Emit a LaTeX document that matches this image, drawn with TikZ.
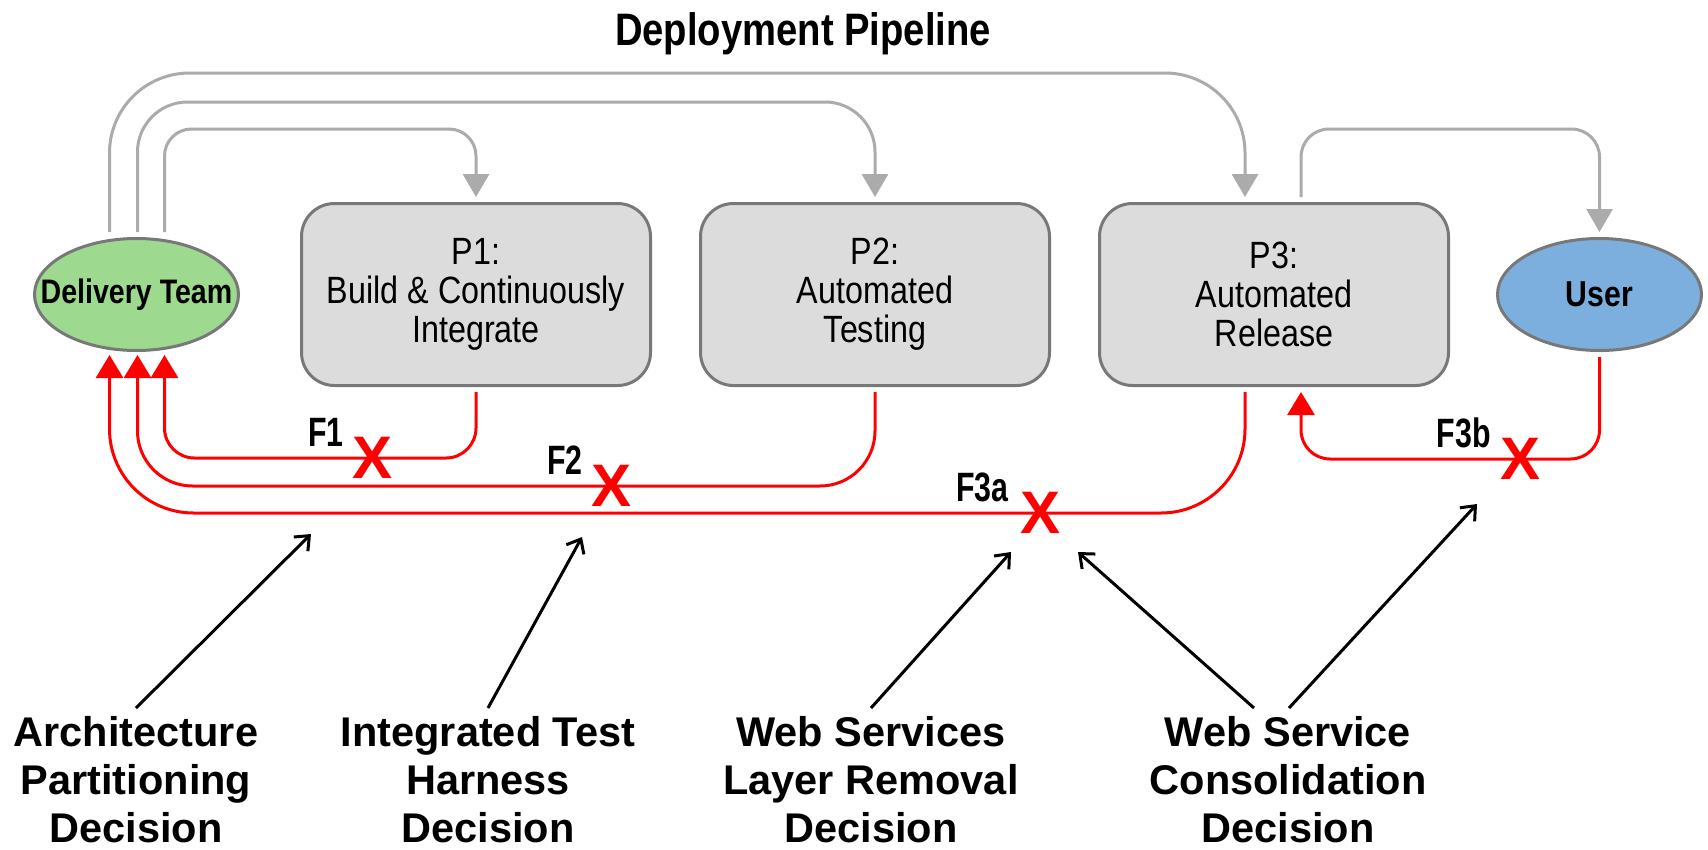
\documentclass[tikz,border=0pt]{standalone}
\usepackage{fontspec}
\setmainfont{Liberation Sans}
\newfontfamily\boxfont{Liberation Sans}[FakeStretch=0.85]
\newfontfamily\headfont{Liberation Sans}[FakeStretch=0.84]
\newfontfamily\flagfont{Liberation Sans}[FakeStretch=0.74]
\usetikzlibrary{positioning, shapes.geometric, arrows.meta}

\definecolor{flowgray}{RGB}{171,171,171}
\definecolor{boxgray}{RGB}{220,220,220}
\definecolor{edgegray}{RGB}{120,120,120}
\definecolor{teamgreen}{RGB}{157,217,143}
\definecolor{userblue}{RGB}{124,175,221}

\tikzset{
  stagebox/.style={draw=edgegray, fill=boxgray, line width=3pt, rounded corners=33pt,
    minimum width=349pt, minimum height=182pt, inner sep=0pt, align=center,
    font=\boxfont\fontsize{38}{39}\selectfont},
  actorshape/.style={ellipse, draw=edgegray, line width=3pt, minimum width=204pt,
    minimum height=112pt, inner xsep=-25pt, inner ysep=0pt},
  passflow/.style={draw=flowgray, line width=3pt, -{Triangle[width=26pt,length=23pt]}},
  failflow/.style={draw=red, line width=3pt, -{Triangle[width=27pt,length=23pt]}},
  crossmark/.style={text=red, inner sep=0pt, font=\bfseries\fontsize{60}{60}\selectfont},
  flaglabel/.style={inner sep=0pt, font=\flagfont\bfseries\fontsize{41}{41}\selectfont},
  decisiontext/.style={align=center, inner sep=0pt, font=\bfseries\fontsize{41.5}{48}\selectfont},
  hintarrow/.style={line width=3pt, -{Straight Barb[length=12pt,width=20pt]}},
}

\begin{document}
\begin{tikzpicture}
        \useasboundingbox (0,0) rectangle (1708pt,-849pt);

        \node[font=\headfont\bfseries\fontsize{45.5}{45.5}\selectfont] (title) at (803pt,-34pt) {Deployment Pipeline};

        \node[stagebox] (stage 1) at (476pt,-294.5pt) {P1:\\Build \& Continuously\\Integrate};
        \node[stagebox, right=47pt of stage 1] (stage 2) {P2:\\Automated\\Testing};
        \node[stagebox, right=47pt of stage 2] (stage 3) {P3:\\Automated\\Release};

        \node[actorshape, fill=teamgreen, left=60pt of stage 1,
              font=\headfont\bfseries\fontsize{34}{34}\selectfont] (team) {Delivery Team};
        \node[actorshape, fill=userblue, right=46pt of stage 3,
              font=\headfont\bfseries\fontsize{36}{36}\selectfont] (user) {User};

        % forward flow through the pipeline
        \draw[passflow, rounded corners=80pt] ([xshift=-27pt,yshift=5pt]team.north)
            |- ([xshift=-29pt,yshift=129pt]stage 3.north) -- ([xshift=-29pt,yshift=5pt]stage 3.north);
        \draw[passflow, rounded corners=50pt] ([xshift=1pt,yshift=5pt]team.north)
            |- ([yshift=100pt]stage 2.north) -- ([yshift=5pt]stage 2.north);
        \draw[passflow, rounded corners=27pt] ([xshift=28pt,yshift=5pt]team.north)
            |- ([yshift=73pt]stage 1.north) -- ([yshift=5pt]stage 1.north);
        \draw[passflow, rounded corners=28pt] ([xshift=27pt,yshift=5pt]stage 3.north)
            |- ([yshift=108pt]user.north) -- ([yshift=5pt]user.north);

        % failed feedback
        \node[crossmark] (fail 1) at (373pt,-458pt) {X};
        \node[crossmark] (fail 2) at (612pt,-486pt) {X};
        \node[crossmark] (fail 3a) at (1040pt,-513pt) {X};
        \node[crossmark] (fail 3b) at (1520pt,-459pt) {X};

        \node[flaglabel, above left=-10pt and 9pt of fail 1] (flag 1) {F1};
        \node[flaglabel, above left=-10pt and 9pt of fail 2] (flag 2) {F2};
        \node[flaglabel, above left=-10pt and 11pt of fail 3a] (flag 3a) {F3a};
        \node[flaglabel, above left=-10pt and 9pt of fail 3b] (flag 3b) {F3b};

        \draw[failflow, rounded corners=30pt] ([yshift=-5pt]stage 1.south)
            |- (fail 1.center) -| ([xshift=28pt,yshift=-3pt]team.south);
        \draw[failflow, rounded corners=55pt] ([yshift=-5pt]stage 2.south)
            |- (fail 2.center) -| ([xshift=1pt,yshift=-3pt]team.south);
        \draw[failflow, rounded corners=84pt] ([xshift=-29pt,yshift=-5pt]stage 3.south)
            |- (fail 3a.center) -| ([xshift=-27pt,yshift=-3pt]team.south);
        \draw[failflow, rounded corners=29pt] ([yshift=-5pt]user.south)
            |- (fail 3b.center) -| ([xshift=27pt,yshift=-5pt]stage 3.south);

        % decisions
        \node[decisiontext, anchor=north] (decision 1) at (136pt,-716pt) {Architecture\\Partitioning\\Decision};
        \node[decisiontext, anchor=north] (decision 2) at (488pt,-716pt) {Integrated Test\\Harness\\Decision};
        \node[decisiontext, anchor=north] (decision 3) at (871pt,-716pt) {Web Services\\Layer Removal\\Decision};
        \node[decisiontext, anchor=north] (decision 4) at (1288pt,-716pt) {Web Service\\Consolidation\\Decision};

        \coordinate (aim 1) at (311pt,-534pt);
        \coordinate (aim 2) at (582pt,-537pt);
        \coordinate (aim 3) at (1011pt,-552pt);
        \coordinate (aim 4) at (1078pt,-552pt);
        \coordinate (aim 5) at (1477pt,-504pt);

        \foreach \i in {1,2,3}
        \draw[hintarrow] ([yshift=8pt]decision \i.north) -- (aim \i);
        \draw[hintarrow] ([xshift=-34pt,yshift=8pt]decision 4.north) -- (aim 4);
        \draw[hintarrow] ([xshift=1pt,yshift=8pt]decision 4.north) -- (aim 5);

    \end{tikzpicture}
\end{document}
